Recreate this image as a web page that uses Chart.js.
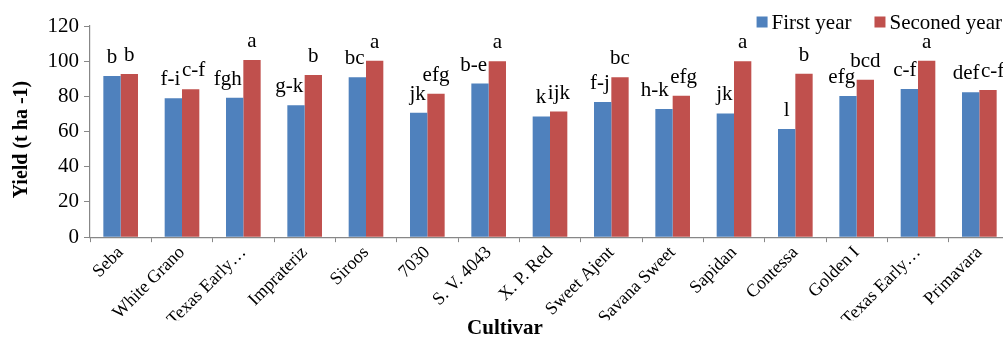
<!DOCTYPE html>
<html>
<head>
<meta charset="utf-8">
<script src="https://cdn.jsdelivr.net/npm/chart.js@4.4.1/dist/chart.umd.min.js"></script>
<style>
  html, body { margin: 0; padding: 0; background: #fff; overflow: hidden; }
  #wrap { position: relative; width: 1010px; height: 338px; }
</style>
</head>
<body>
<div id="wrap"><canvas id="chart"></canvas></div>
<script>
// Onion cultivars, yield over two seasons (t ha-1)
const cultivars = ['Seba', 'White Grano', 'Texas Early\u2026', 'Imprateriz', 'Siroos', '7030',
  'S. V. 4043', 'X. P. Red', 'Sweet Ajent', 'Savana Sweet', 'Sapidan', 'Contessa',
  'Golden I', 'Texas Early\u2026', 'Primavara'];
const firstYear  = [91.6, 78.9, 79.2, 74.9, 90.9, 70.7, 87.3, 68.6, 76.8, 72.8, 70.3, 61.5, 80.2, 84.2, 82.3];
const secondYear = [92.7, 84.0, 100.7, 92.2, 100.2, 81.5, 100.0, 71.4, 90.9, 80.4, 100.0, 92.8, 89.4, 100.2, 83.6];
// Mean-separation letters for each bar
const firstLetters  = ['b', 'f-i', 'fgh', 'g-k', 'bc', 'jk', 'b-e', 'k', 'f-j', 'h-k', 'jk', 'l', 'efg', 'c-f', 'def'];
const secondLetters = ['b', 'c-f', 'a', 'b', 'a', 'efg', 'a', 'ijk', 'bc', 'efg', 'a', 'b', 'bcd', 'a', 'c-f'];
const yTicks = [0, 20, 40, 60, 80, 100, 120];
const yTitle = 'Yield (t ha -1)';

const SERIF = '"Liberation Serif", "Times New Roman", serif';
const AXIS_GREY = '#878787';

// Letters above bars; a label is nudged sideways when it would run into
// the neighbouring taller bar or into its partner label.
const letterPlugin = {
  id: 'letters',
  afterDatasetsDraw(chart) {
    const ctx = chart.ctx;
    const sets = [firstLetters, secondLetters];
    const m0 = chart.getDatasetMeta(0), m1 = chart.getDatasetMeta(1);
    const lift = 13, capH = 14, gap = 1.5;
    ctx.save();
    ctx.font = '21px ' + SERIF;
    ctx.fillStyle = '#000';
    ctx.textAlign = 'left';
    ctx.textBaseline = 'alphabetic';
    for (let i = 0; i < cultivars.length; i++) {
      const b = [m0.data[i], m1.data[i]].map(el => el.getProps(['x', 'y', 'width'], true));
      const lab = [0, 1].map(k => {
        const w = ctx.measureText(sets[k][i]).width;
        return { text: sets[k][i], w, left: b[k].x - w / 2, base: b[k].y - lift };
      });
      // keep the left label clear of a taller right bar and vice versa
      if (b[1].y < lab[0].base) {
        const edge = b[1].x - b[1].width / 2 - gap;
        if (lab[0].left + lab[0].w > edge) lab[0].left = edge - lab[0].w;
      }
      if (b[0].y < lab[1].base) {
        const edge = b[0].x + b[0].width / 2 + gap;
        if (lab[1].left < edge) lab[1].left = edge;
      }
      // separate the two labels if they share a line
      if (Math.abs(lab[0].base - lab[1].base) < capH) {
        const over = lab[0].left + lab[0].w + gap - lab[1].left;
        if (over > 0) { lab[0].left -= over / 2; lab[1].left += over / 2; }
      }
      lab.forEach(l => ctx.fillText(l.text, l.left, l.base));
    }
    ctx.restore();
  }
};

// Legend in the top-right corner, over the plot, plus the rotated y title
const overlayText = {
  id: 'overlayText',
  afterDraw(chart) {
    const ctx = chart.ctx;
    const ds = chart.data.datasets;
    const box = 11, boxGap = 4, itemGap = 23, yMid = 22;
    ctx.save();
    ctx.font = '21px ' + SERIF;
    ctx.textBaseline = 'middle';
    ctx.textAlign = 'left';
    const widths = ds.map(d => ctx.measureText(d.label).width);
    const total = widths.reduce((s, w) => s + box + boxGap + w, 0) + itemGap * (ds.length - 1);
    let x = 1002 - total;
    ds.forEach((d, k) => {
      ctx.fillStyle = d.backgroundColor;
      ctx.fillRect(x, yMid - box / 2, box, box);
      x += box + boxGap;
      ctx.fillStyle = '#000';
      ctx.fillText(d.label, x, yMid + 1);
      x += widths[k] + itemGap;
    });
    // y-axis title, a little below the middle of the axis
    const area = chart.chartArea;
    ctx.translate(21.5, (area.top + area.bottom) / 2 + 8);
    ctx.rotate(-Math.PI / 2);
    ctx.font = 'bold 20px ' + SERIF;
    ctx.textAlign = 'center';
    ctx.fillText(yTitle, 0, 0);
    ctx.restore();
  }
};

function build() {
  new Chart(document.getElementById('chart'), {
    type: 'bar',
    data: {
      labels: cultivars,
      datasets: [
        { label: 'First year', data: firstYear, backgroundColor: '#4F81BD' },
        { label: 'Seconed year', data: secondYear, backgroundColor: '#C0504D' }
      ]
    },
    options: {
      responsive: true,
      maintainAspectRatio: false,
      devicePixelRatio: 1,
      animation: false,
      categoryPercentage: 0.565,
      barPercentage: 1.0,
      layout: { padding: { top: 26, right: 0, left: 0, bottom: 0 } },
      plugins: {
        legend: { display: false },
        tooltip: { enabled: false },
        title: {
          display: true,
          text: 'Cultivar',
          position: 'bottom',
          color: '#000',
          font: { family: SERIF, size: 21, weight: 'bold', lineHeight: 0.85 },
          padding: 0
        }
      },
      scales: {
        x: {
          afterFit(scale) { scale.height = 83; },
          grid: { display: true, drawOnChartArea: false, offset: true, tickLength: 5, color: AXIS_GREY },
          border: { color: AXIS_GREY, width: 1.2 },
          ticks: {
            color: '#000',
            font: { family: SERIF, size: 18 },
            minRotation: 45,
            maxRotation: 45,
            autoSkip: false,
            padding: 0
          }
        },
        y: {
          min: 0,
          max: 120,
          afterFit(scale) { scale.width = 90; },
          afterBuildTicks(scale) { scale.ticks = yTicks.map(v => ({ value: v })); },
          grid: { display: true, drawOnChartArea: false, tickLength: 6, color: AXIS_GREY },
          border: { color: AXIS_GREY, width: 1.2 },
          ticks: { color: '#000', font: { family: SERIF, size: 21 }, padding: 5 }
        }
      }
    },
    plugins: [letterPlugin, overlayText]
  });
}

// make sure the serif faces are ready before the canvas is painted
Promise.all([
  document.fonts.load('21px "Liberation Serif"'),
  document.fonts.load('bold 21px "Liberation Serif"')
]).catch(() => {}).then(build);
</script>
</body>
</html>
